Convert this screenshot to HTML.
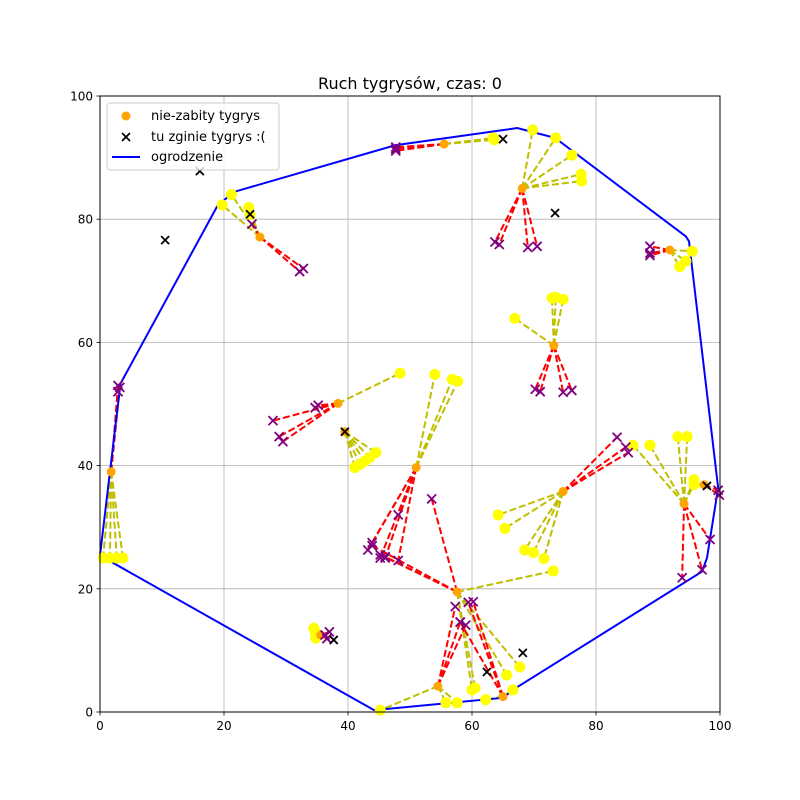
<!DOCTYPE html>
<html><head><meta charset="utf-8"><style>
body{margin:0;background:#fff;}
svg{display:block;font-family:"DejaVu Sans","Liberation Sans",sans-serif;}
</style></head><body>
<svg id="chart" width="800" height="800" xmlns="http://www.w3.org/2000/svg"></svg>
<script>
const xTicks=[0,20,40,60,80,100];
const yTicks=[0,20,40,60,80,100];
const fenceX=[0,3.3,18.9,21.5,47.6,67.3,73.4,94.5,95,99.7,97.9,97.1,66.6,65,44.2,0];
const fenceY=[25.4,53.3,82.1,84.4,92,94.8,93.2,77.2,76.4,36.4,25,22.8,3.6,2.3,0.3,25.4];
// clusters: center, yellow targets, purple targets
const centerX=[25.8,55.5,68.1,91.9,73.2,38.4,39.5,1.8,51,57.6,54.5,65,74.7,94.2,97.4,35.6];
const centerY=[77.1,92.2,85.0,75.0,59.5,50.1,45.5,39.0,39.7,19.5,4.2,2.5,35.8,33.8,36.9,12.5];
const yellowX=[[19.7,21.2,24.0,24.2],[63.4,63.6],[69.8,73.5,76.1,77.6,77.7],[95.5,94.5,93.5],[72.9,73.5,74.7,66.9],[48.4],[41.1,41.9,42.7,43.5,44.5],[0.5,1.6,2.7,3.7],[54.0,56.8,57.7],[73.1,67.7,65.6,60,60.5],[45.2,55.8,57.6],[66.6,62.2],[64.2,65.3,68.5,69.9,71.6],[86,88.7,93.2,94.7,95.8,95.8],[],[34.7,34.8,34.5]];
const yellowY=[[82.3,84.0,81.9,80.7],[93.2,92.9],[94.5,93.2,90.4,87.3,86.2],[74.8,73.2,72.3],[67.2,67.3,67.0,63.9],[55],[39.7,40.2,40.7,41.3,42.1],[25,25,25,25],[54.8,54.0,53.7],[22.9,7.3,6.0,3.6,3.9],[0.3,1.5,1.5],[3.6,2.0],[32,29.8,26.3,25.9,24.9],[43.3,43.3,44.7,44.7,37.7,36.9],[],[13,12,13.6]];
const purpleX=[[32.2,32.8,24.5],[47.7,47.7,47.7],[63.7,64.4,69,70.5],[88.7,88.7,88.7],[70.2,71,74.7,76.1],[27.9,28.9,29.5,34.7,35.2],[],[2.9,3.2,2.9],[43.2,43.9,45.2,46,48.1,48.1],[53.5,45.2,46,43.9],[57.3,58.1,59],[59.4,60.2,58.1],[83.4,84.8,85.2],[93.9,97.1,98.4],[99.7,99.9],[36.3,37,36.6]];
const purpleY=[[71.5,72.0,79.2],[91.7,91.1,91.4],[76.3,75.9,75.4,75.6],[75.6,74.5,74.1],[52.4,52.0,51.9,52.2],[47.3,44.7,43.9,49.4,49.8],[],[53,52.7,52],[26.3,27.5,25,25,24.6,32],[34.6,25.5,25.2,27],[17.1,14.6,14.1],[17.8,17.9,14.6],[44.6,43,42.1],[21.8,23.1,28],[36.0,35.2],[12.5,13,11.9]];
const blackX=[16.1,10.5,65,73.4,68.2,62.4,37.7,24.2,97.9,39.5];
const blackY=[87.8,76.6,93,81,9.6,6.5,11.7,80.8,36.7,45.5];

const L=100,R=720,T=96,B=712;
const sx=v=>L+(v-0)/100*(R-L);
const sy=v=>B-(v-0)/100*(B-T);
const svg=document.getElementById('chart');
const NS='http://www.w3.org/2000/svg';
function mk(tag,attrs,parent){const e=document.createElementNS(NS,tag);for(const k in attrs)e.setAttribute(k,attrs[k]);(parent||svg).appendChild(e);return e;}

let e=mk('rect',{x:L,y:T,width:R-L,height:B-T,fill:'#fff'});


// grid
xTicks.forEach(t=>{
  let g=mk('line',{x1:sx(t),x2:sx(t),y1:T,y2:B,stroke:'#b0b0b0','stroke-width':0.8});
  
  
  let tk=mk('line',{x1:sx(t),x2:sx(t),y1:B,y2:B+3.5,stroke:'#000','stroke-width':0.8});
  
  
  let tx=mk('text',{x:sx(t),y:B+18,'font-size':12,'text-anchor':'middle',fill:'#000'});
  tx.textContent=t;
  
  
});
yTicks.forEach(t=>{
  let g=mk('line',{x1:L,x2:R,y1:sy(t),y2:sy(t),stroke:'#b0b0b0','stroke-width':0.8});
  
  
  let tk=mk('line',{x1:L-3.5,x2:L,y1:sy(t),y2:sy(t),stroke:'#000','stroke-width':0.8});
  
  
  let tx=mk('text',{x:L-7,y:sy(t)+4.5,'font-size':12,'text-anchor':'end',fill:'#000'});
  tx.textContent=t;
  
  
});
// yellow lines
centerX.forEach((cx,i)=>{
  yellowX[i].forEach((yx,j)=>{
    let l=mk('line',{x1:sx(cx),y1:sy(centerY[i]),x2:sx(yx),y2:sy(yellowY[i][j]),stroke:'#bfbf00','stroke-width':2,'stroke-dasharray':'7,3'});
    
    
  });
});
centerX.forEach((cx,i)=>{
  purpleX[i].forEach((px,j)=>{
    let l=mk('line',{x1:sx(cx),y1:sy(centerY[i]),x2:sx(px),y2:sy(purpleY[i][j]),stroke:'#ff0000','stroke-width':2,'stroke-dasharray':'7,3'});
    
    
  });
});
// fence
let fp=mk('polyline',{points:fenceX.map((x,i)=>sx(x)+','+sy(fenceY[i])).join(' '),fill:'none',stroke:'#0000ff','stroke-width':2});


// yellow points
yellowX.forEach((arr,i)=>arr.forEach((x,j)=>{
  let c=mk('circle',{cx:sx(x),cy:sy(yellowY[i][j]),r:5.5,fill:'#ffff00'});
  
  
}));
centerX.forEach((x,i)=>{
  let c=mk('circle',{cx:sx(x),cy:sy(centerY[i]),r:4.5,fill:'#ffa500'});
  
  
});
function cross(x,y,col,s,w,name){
  const g=mk('g',{stroke:col,'stroke-width':w});
  mk('line',{x1:x-s,y1:y-s,x2:x+s,y2:y+s},g);mk('line',{x1:x-s,y1:y+s,x2:x+s,y2:y-s},g);
  
  
}
purpleX.forEach((arr,i)=>arr.forEach((x,j)=>cross(sx(x),sy(purpleY[i][j]),'#800080',4.5,1.8,'death-marker')));
blackX.forEach((x,i)=>cross(sx(x),sy(blackY[i]),'#000',4,1.8,'tiger-death-marker'));
// frame
let fr=mk('rect',{x:L,y:T,width:R-L,height:B-T,fill:'none',stroke:'#000','stroke-width':1});


let ti=mk('text',{x:410,y:89,'font-size':16,'text-anchor':'middle',fill:'#000'});
ti.textContent='Ruch tygrysów, czas: 0';


// legend
const lg=mk('g',{});


mk('rect',{x:107,y:103,width:172,height:67,rx:3,fill:'#fff','fill-opacity':0.8,stroke:'#ccc'},lg);
let c1=mk('circle',{cx:126,cy:116,r:4.5,fill:'#ffa500'},lg);


let t1=mk('text',{x:151,y:120,'font-size':13,fill:'#000'},lg);t1.textContent='nie-zabity tygrys';


const gx=mk('g',{stroke:'#000','stroke-width':1.8},lg);
mk('line',{x1:122,y1:133,x2:130,y2:141},gx);mk('line',{x1:122,y1:141,x2:130,y2:133},gx);


let t2=mk('text',{x:151,y:141,'font-size':13,fill:'#000'},lg);t2.textContent='tu zginie tygrys :(';


let l3=mk('line',{x1:112,y1:157,x2:140,y2:157,stroke:'#0000ff','stroke-width':2},lg);


let t3=mk('text',{x:151,y:161,'font-size':13,fill:'#000'},lg);t3.textContent='ogrodzenie';


</script>
</body></html>
